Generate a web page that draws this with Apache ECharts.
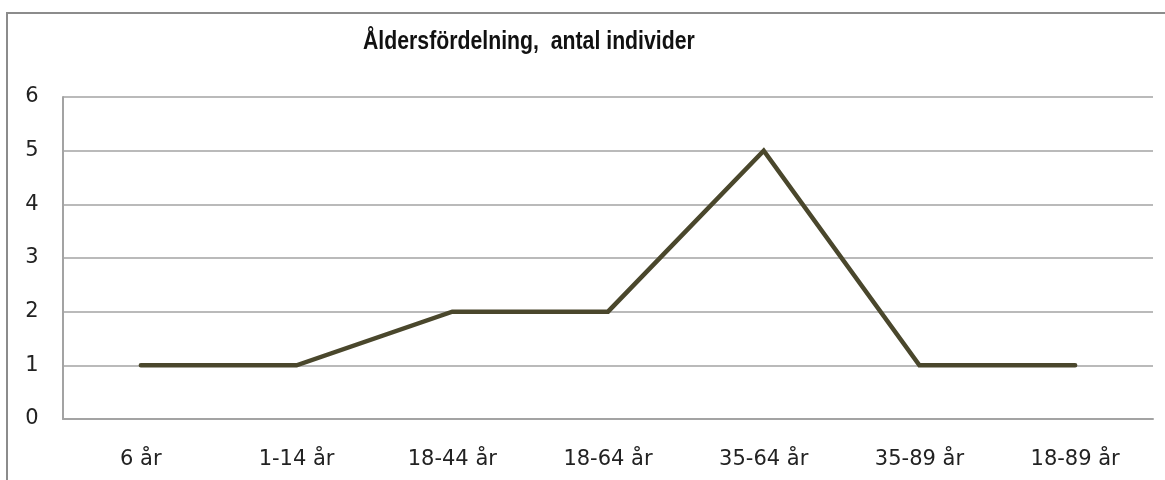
<!DOCTYPE html>
<html>
<head>
<meta charset="utf-8">
<script src="https://cdn.jsdelivr.net/npm/echarts@6/dist/echarts.min.js"></script>
<style>
  html, body { margin: 0; padding: 0; background: #fff; }
  #chart { width: 1165px; height: 480px; }
</style>
</head>
<body>
<div id="chart"></div>
<script>
// Age groups and number of individuals in each
const ageGroups = ['6 år', '1-14 år', '18-44 år', '18-64 år', '35-64 år', '35-89 år', '18-89 år'];
const individuals = [1, 1, 2, 2, 5, 1, 1];
const yTicks = [0, 1, 2, 3, 4, 5, 6];
const chartTitle = 'Åldersfördelning,  antal individer';

const chart = echarts.init(document.getElementById('chart'), null, { renderer: 'canvas' });

const labelFont = '"DejaVu Sans", Verdana, sans-serif';

chart.setOption({
  animation: false,
  backgroundColor: '#ffffff',
  graphic: [
    {
      // chart frame
      type: 'rect',
      shape: { x: 7, y: 13, width: 1200, height: 500 },
      style: { fill: 'none', stroke: '#8c8c8c', lineWidth: 2 },
      silent: true
    },
    {
      // condensed bold title
      type: 'text',
      x: 363,
      y: 30,
      scaleX: 0.85,
      style: {
        text: chartTitle,
        fontFamily: '"Liberation Sans", Arial, sans-serif',
        fontWeight: 'bold',
        fontSize: 25,
        fill: '#111',
        verticalAlign: 'top'
      },
      silent: true
    }
  ],
  grid: { left: 63, right: 12, top: 97, bottom: 61, containLabel: false },
  xAxis: {
    type: 'category',
    data: ageGroups,
    boundaryGap: true,
    axisLine: { show: true, lineStyle: { color: '#a3a3a3', width: 2 } },
    axisTick: { show: false },
    axisLabel: {
      margin: 30,
      fontFamily: labelFont,
      fontSize: 21,
      color: '#222'
    },
    splitLine: { show: false }
  },
  yAxis: {
    type: 'value',
    min: yTicks[0],
    max: yTicks[yTicks.length - 1],
    interval: 1,
    axisLine: { show: true, lineStyle: { color: '#a3a3a3', width: 2 } },
    axisTick: { show: false },
    axisLabel: {
      margin: 31,
      align: 'center',
      fontFamily: labelFont,
      fontSize: 21,
      color: '#222'
    },
    splitLine: { show: true, lineStyle: { color: '#a3a3a3', width: 1.5 } }
  },
  series: [{
    type: 'line',
    data: individuals,
    symbol: 'none',
    lineStyle: { color: '#4a472c', width: 4.5, cap: 'round', join: 'miter' }
  }]
});
</script>
</body>
</html>
